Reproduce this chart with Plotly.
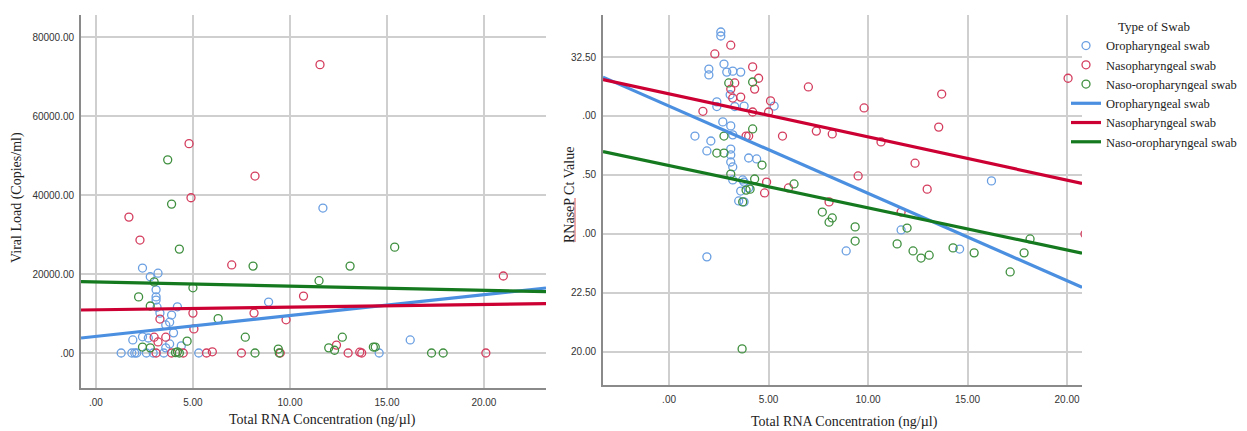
import plotly.graph_objects as go

# ---------------- data: left panel (Viral load vs Total RNA) ----------------
oro_L_x = [11.7, 2.4, 3.2, 2.8, 3.1, 3.1, 3.1, 3.15, 4.2, 3.3, 3.9, 3.8, 3.6, 4.0, 1.9, 2.4, 2.7, 3.8, 3.6, 4.4,
           1.3, 1.85, 2.0, 2.1, 2.6, 2.95, 3.5, 5.3, 8.9, 16.2, 14.6]
oro_L_y = [36700, 21500, 20200, 19300, 16000, 14200, 13400, 11600, 11700, 10100, 9600, 7800, 7100, 5100, 3300, 4100,
           3800, 2300, 1300, 1800, 0, 0, 0, 0, 0, 0, 0, 0, 12900, 3300, 0]

naso_L_x = [11.55, 4.8, 8.2, 4.9, 1.7, 2.27, 7.0, 21.0, 10.7, 5.0, 8.15, 9.8, 5.05, 3.3, 3.6, 3.0, 3.2, 3.1, 3.9,
            4.5, 5.7, 6.0, 7.5, 9.5, 13.0, 13.6, 13.7, 20.1, 12.4]
naso_L_y = [73000, 53000, 44800, 39300, 34400, 28600, 22300, 19500, 14400, 10100, 10100, 8400, 6100, 8600, 4000,
            4000, 2800, 0, 0, 0, 0, 300, 0, 0, 0, 200, 0, 0, 2000]

no_L_x = [3.7, 3.9, 4.3, 8.1, 3.0, 5.0, 2.2, 2.8, 6.3, 7.7, 4.7, 2.4, 2.8, 4.2, 4.3, 8.2, 9.4, 9.45, 15.4, 13.1,
          11.5, 12.7, 12.0, 12.3, 14.3, 14.4, 17.3, 17.9, 4.1]
no_L_y = [48900, 37700, 26300, 22000, 18000, 16500, 14200, 11900, 8700, 4000, 3000, 1500, 1300, 300, 0, 0, 1000, 0,
          26800, 22000, 18300, 4000, 1300, 700, 1500, 1500, 0, 0, 100]

# fit lines: (intercept, slope)
fit_L = {"oro": (4206, 528), "naso": (10937, 66.5), "no": (17969, -105.6)}

# ---------------- data: right panel (RNaseP Ct vs Total RNA) ----------------
oro_R_x = [2.6, 2.6, 2.76, 2.0, 2.0, 2.9, 3.2, 3.6, 2.4, 2.4, 3.07, 3.3, 3.77, 5.28, 2.7, 3.1, 1.3, 2.1, 3.2, 1.9,
           3.1, 3.1, 3.1, 3.2, 4.0, 4.4, 3.2, 3.7, 3.77, 4.0, 3.6, 3.5, 3.77, 1.9, 16.2, 11.66, 8.9, 14.6]
oro_R_y = [33.56, 33.39, 32.2, 31.99, 31.74, 31.86, 31.9, 31.86, 30.6, 30.4, 30.9, 30.4, 30.42, 30.42, 29.75, 29.58,
           29.15, 28.94, 29.2, 28.52, 28.6, 28.35, 28.05, 27.84, 28.22, 28.18, 27.29, 27.29, 27.2, 26.95, 26.82,
           26.4, 26.36, 24.03, 27.25, 25.17, 24.28, 24.36]

naso_R_x = [3.1, 2.3, 4.2, 4.5, 3.3, 3.1, 4.3, 3.2, 3.6, 5.1, 7.0, 1.7, 4.2, 5.0, 3.87, 4.0, 5.7, 4.9, 4.8, 6.0,
            7.4, 9.8, 8.2, 10.65, 13.7, 13.55, 12.36, 9.5, 12.97, 20.05, 8.04, 11.66, 20.9]
naso_R_y = [33.0, 32.63, 32.08, 31.6, 31.4, 31.14, 31.14, 30.76, 30.8, 30.64, 31.23, 30.2, 30.17, 30.17, 29.15,
            29.15, 29.15, 27.2, 26.74, 26.95, 29.36, 30.34, 29.24, 28.9, 30.93, 29.53, 28.0, 27.46, 26.9, 31.6,
            26.36, 25.93, 25.0]

no_R_x = [3.0, 4.2, 4.2, 2.76, 2.4, 2.76, 4.67, 3.1, 4.3, 3.87, 4.07, 6.28, 3.7, 7.7, 3.67, 8.04, 8.2, 9.35, 9.35,
          11.46, 11.96, 12.26, 12.66, 13.07, 14.27, 15.33, 17.14, 17.84, 18.14]
no_R_y = [31.4, 31.44, 29.45, 29.15, 28.43, 28.43, 27.92, 27.54, 27.33, 26.86, 26.9, 27.12, 26.36, 25.93, 20.13,
          25.5, 25.68, 25.3, 24.7, 24.58, 25.25, 24.28, 23.98, 24.1, 24.41, 24.2, 23.39, 24.2, 24.79]

fit_R = {"oro": (30.42, -0.370), "naso": (30.94, -0.1828), "no": (27.90, -0.179)}

names = {"oro": "Oropharyngeal swab", "naso": "Nasopharyngeal swab", "no": "Naso-oropharyngeal swab"}

L_xrange = [-0.77, 23.2]
L_yrange = [-8860, 85570]
R_xrange = [-3.32, 20.75]
R_yrange = [18.6, 34.28]

L_xticks = [0, 5, 10, 15, 20]
L_xticktext = [".00", "5.00", "10.00", "15.00", "20.00"]
L_yticks = [0, 20000, 40000, 60000, 80000]
L_yticktext = [".00", "20000.00", "40000.00", "60000.00", "80000.00"]
R_xticks = [0, 5, 10, 15, 20]
R_xticktext = [".00", "5.00", "10.00", "15.00", "20.00"]
R_yticks = [20, 22.5, 25, 27.5, 30, 32.5]
R_yticktext = ["20.00", "22.50", ".00", ".50", ".00", "32.50"]

# ---------------- style ----------------
mcol = {"oro": "#6a9fe2", "naso": "#d43d5e", "no": "#3f8f3f"}
lcol = {"oro": "#4b8fe0", "naso": "#cc0033", "no": "#157a1f"}

# page body has an 8px margin: figure origin sits at (8, 8) on screen
OFF = 8
W, H = 1247 - OFF, 431 - OFF


def px_x(p):
    return (p - OFF) / W


def px_y(p):
    return 1 - (p - OFF) / H


def dom_x(a, b):
    return [px_x(a), px_x(b)]


def dom_y(top, bottom):
    return [px_y(bottom), px_y(top)]


fig = go.Figure()

left_sets = {"oro": (oro_L_x, oro_L_y), "naso": (naso_L_x, naso_L_y), "no": (no_L_x, no_L_y)}
right_sets = {"oro": (oro_R_x, oro_R_y), "naso": (naso_R_x, naso_R_y), "no": (no_R_x, no_R_y)}

for k, (xs, ys) in left_sets.items():
    fig.add_trace(go.Scatter(x=xs, y=ys, mode="markers", xaxis="x", yaxis="y", showlegend=False,
                             marker=dict(symbol="circle-open", size=8, color=mcol[k],
                                         line=dict(width=1.3, color=mcol[k]))))
for k, (xs, ys) in right_sets.items():
    fig.add_trace(go.Scatter(x=xs, y=ys, mode="markers", xaxis="x2", yaxis="y2", name=names[k],
                             legendrank=1 + list(names).index(k),
                             marker=dict(symbol="circle-open", size=8, color=mcol[k],
                                         line=dict(width=1.3, color=mcol[k]))))

for k, (b0, b1) in fit_L.items():
    xs = L_xrange
    fig.add_trace(go.Scatter(x=xs, y=[b0 + b1 * v for v in xs], mode="lines", xaxis="x", yaxis="y",
                             showlegend=False, line=dict(color=lcol[k], width=3.2)))
for k, (b0, b1) in fit_R.items():
    xs = R_xrange
    fig.add_trace(go.Scatter(x=xs, y=[b0 + b1 * v for v in xs], mode="lines", xaxis="x2", yaxis="y2",
                             name=names[k], legendrank=10 + list(names).index(k),
                             line=dict(color=lcol[k], width=3.2)))

grid = "#cfcfcf"
axl = "#8a8a8a"
tickfont = dict(family="Liberation Sans, Arial", size=10, color="#333333")
common_x = dict(showgrid=True, gridcolor=grid, gridwidth=1.5, zeroline=False, showline=True, linecolor=axl,
                linewidth=1.8, ticks="outside", ticklen=4, tickcolor="rgba(0,0,0,0)", tickfont=tickfont)
common_y = dict(showgrid=True, gridcolor=grid, gridwidth=1.5, zeroline=False, showline=True, linecolor=axl,
                linewidth=1.8, ticks="outside", ticklen=3, tickcolor="rgba(0,0,0,0)", tickfont=tickfont)

legfont = dict(family="Liberation Serif, Times New Roman", size=12.5, color="#222222")
legtitlefont = dict(family="Liberation Serif, Times New Roman", size=13, color="#222222")

fig.update_layout(
    width=W, height=H,
    margin=dict(l=0, r=0, t=0, b=0, autoexpand=False),
    paper_bgcolor="white", plot_bgcolor="white",
    xaxis=dict(domain=dom_x(81, 546), range=L_xrange, tickvals=L_xticks, ticktext=L_xticktext,
               anchor="y", **common_x),
    yaxis=dict(domain=dom_y(15, 388), range=L_yrange, tickvals=L_yticks, ticktext=L_yticktext,
               anchor="x", **common_y),
    xaxis2=dict(domain=dom_x(603, 1082), range=R_xrange, tickvals=R_xticks, ticktext=R_xticktext,
                anchor="y2", **common_x),
    yaxis2=dict(domain=dom_y(15, 385), range=R_yrange, tickvals=R_yticks, ticktext=R_yticktext,
                anchor="x2", **common_y),
    legend=dict(x=px_x(1066), y=px_y(14), xanchor="left", yanchor="top",
                font=legfont,
                title=dict(text="Type of Swab", side="top center", font=legtitlefont),
                bgcolor="rgba(0,0,0,0)", itemwidth=30, tracegroupgap=0),
    showlegend=True,
)

serif = dict(family="Liberation Serif, Times New Roman", size=14, color="#222222")
fig.add_annotation(text="Viral Load (Copies/ml)", xref="paper", yref="paper", x=px_x(17), y=px_y(198),
                   textangle=-90, showarrow=False, font=serif, xanchor="center", yanchor="middle")
fig.add_annotation(text="RNaseP Ct Value", xref="paper", yref="paper", x=px_x(569), y=px_y(195),
                   textangle=-90, showarrow=False, font=serif, xanchor="center", yanchor="middle")
fig.add_annotation(text="Total RNA Concentration (ng/µl)", xref="paper", yref="paper", x=px_x(322), y=px_y(420),
                   showarrow=False, font=serif, xanchor="center", yanchor="middle")
fig.add_annotation(text="Total RNA Concentration (ng/µl)", xref="paper", yref="paper", x=px_x(845), y=px_y(422),
                   showarrow=False, font=serif, xanchor="center", yanchor="middle")
# spell-check style red underline beneath "RNaseP" in the source image
fig.add_shape(type="line", xref="paper", yref="paper", x0=px_x(575), x1=px_x(575), y0=px_y(198), y1=px_y(242),
              line=dict(color="#e05050", width=1))

fig.write_html("out.html")
